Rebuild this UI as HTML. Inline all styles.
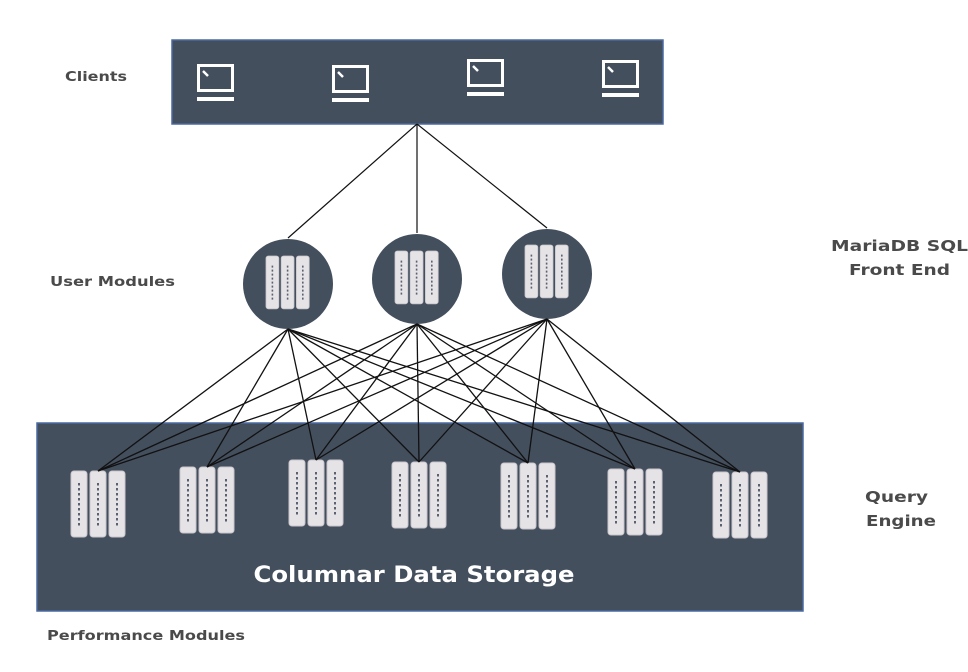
<!DOCTYPE html>
<html><head><meta charset="utf-8"><style>
html,body{margin:0;padding:0;background:#fff;}
svg{display:block;}
text{font-family:"DejaVu Sans","Liberation Sans",sans-serif;}
</style></head><body>
<svg width="968" height="672" viewBox="0 0 968 672" xmlns="http://www.w3.org/2000/svg">
<defs>
  <g id="col">
    <rect x="0" y="0" width="16" height="66" rx="3" fill="#e6e3e6" stroke="#c9c6cc" stroke-width="1"/>
    <g fill="#5a6170">
      <rect x="7" y="12" width="2" height="2.5"/><rect x="7" y="17" width="2" height="2.5"/>
      <rect x="7" y="22" width="2" height="2.5"/><rect x="7" y="27" width="2" height="2.5"/>
      <rect x="7" y="32" width="2" height="2.5"/><rect x="7" y="37" width="2" height="2.5"/>
      <rect x="7" y="42" width="2" height="2.5"/><rect x="7" y="47" width="2" height="2.5"/>
      <rect x="7" y="52" width="2" height="2.5"/>
    </g>
  </g>
  <g id="srv">
    <use href="#col" x="0" y="0"/><use href="#col" x="19" y="0"/><use href="#col" x="38" y="0"/>
  </g>
  <g id="pc" fill="none" stroke="#fff">
    <rect x="1.5" y="1.5" width="34" height="25" stroke-width="3"/>
    <line x1="6" y1="7" x2="11" y2="12" stroke-width="2.5"/>
    <rect x="0" y="33" width="37" height="4" fill="#fff" stroke="none"/>
  </g>
</defs>

<rect x="172" y="40" width="491" height="84" fill="#444f5e" stroke="#4a6aa0" stroke-width="1.5"/>
<use href="#pc" x="197" y="64"/>
<use href="#pc" x="332" y="65"/>
<use href="#pc" x="467" y="59"/>
<use href="#pc" x="602" y="60"/>

<rect x="37" y="423" width="766" height="188" fill="#444f5e" stroke="#4a6aa0" stroke-width="1.5"/>
<use href="#srv" x="71" y="471"/>
<use href="#srv" x="180" y="467"/>
<use href="#srv" x="289" y="460"/>
<use href="#srv" x="392" y="462"/>
<use href="#srv" x="501" y="463"/>
<use href="#srv" x="608" y="469"/>
<use href="#srv" x="713" y="472"/>
<text x="414" y="582" fill="#fff" font-size="22" font-weight="bold" text-anchor="middle" textLength="321" lengthAdjust="spacingAndGlyphs">Columnar Data Storage</text>

<g stroke="#111" stroke-width="1.2">
  <line x1="417" y1="124" x2="288" y2="238"/>
  <line x1="417" y1="124" x2="417" y2="233"/>
  <line x1="417" y1="124" x2="547" y2="228"/>
</g>

<circle cx="288" cy="284" r="45" fill="#444f5e"/>
<circle cx="417" cy="279" r="45" fill="#444f5e"/>
<circle cx="547" cy="274" r="45" fill="#444f5e"/>
<use href="#srv" transform="translate(266,256) scale(0.8)"/>
<use href="#srv" transform="translate(395,251) scale(0.8)"/>
<use href="#srv" transform="translate(525,245) scale(0.8)"/>

<g stroke="#111" stroke-width="1.3">
  <line x1="288" y1="329" x2="98" y2="471"/><line x1="288" y1="329" x2="207" y2="467"/>
  <line x1="288" y1="329" x2="316" y2="460"/><line x1="288" y1="329" x2="419" y2="462"/>
  <line x1="288" y1="329" x2="528" y2="463"/><line x1="288" y1="329" x2="635" y2="469"/>
  <line x1="288" y1="329" x2="740" y2="472"/>
  <line x1="417" y1="324" x2="98" y2="471"/><line x1="417" y1="324" x2="207" y2="467"/>
  <line x1="417" y1="324" x2="316" y2="460"/><line x1="417" y1="324" x2="419" y2="462"/>
  <line x1="417" y1="324" x2="528" y2="463"/><line x1="417" y1="324" x2="635" y2="469"/>
  <line x1="417" y1="324" x2="740" y2="472"/>
  <line x1="547" y1="319" x2="98" y2="471"/><line x1="547" y1="319" x2="207" y2="467"/>
  <line x1="547" y1="319" x2="316" y2="460"/><line x1="547" y1="319" x2="419" y2="462"/>
  <line x1="547" y1="319" x2="528" y2="463"/><line x1="547" y1="319" x2="635" y2="469"/>
  <line x1="547" y1="319" x2="740" y2="472"/>
</g>

<g fill="#4a4a4a" font-weight="bold">
  <text x="65" y="81" font-size="13" textLength="62" lengthAdjust="spacingAndGlyphs">Clients</text>
  <text x="50" y="286" font-size="13" textLength="125" lengthAdjust="spacingAndGlyphs">User Modules</text>
  <text x="47" y="640" font-size="13" textLength="198" lengthAdjust="spacingAndGlyphs">Performance Modules</text>
  <text x="831" y="251" font-size="15" textLength="137" lengthAdjust="spacingAndGlyphs">MariaDB SQL</text>
  <text x="849" y="275" font-size="15" textLength="101" lengthAdjust="spacingAndGlyphs">Front End</text>
  <text x="865" y="502" font-size="15" textLength="63" lengthAdjust="spacingAndGlyphs">Query</text>
  <text x="866" y="526" font-size="15" textLength="70" lengthAdjust="spacingAndGlyphs">Engine</text>
</g>
</svg>
</body></html>
